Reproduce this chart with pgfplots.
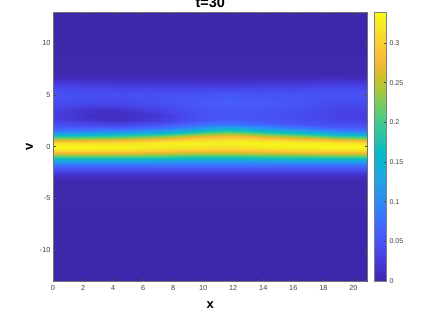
\documentclass[border=0pt]{standalone}
\usepackage{fontspec}
\setmainfont{Liberation Sans}
\usepackage{pgfplots}
\pgfplotsset{compat=1.18}
\pgfplotsset{colormap={parula}{
rgb=(0.2422,0.1504,0.6603) rgb=(0.2647,0.1978,0.7952) rgb=(0.2783,0.2559,0.8991) rgb=(0.2810,0.3228,0.9579)
rgb=(0.2699,0.3892,0.9906) rgb=(0.2206,0.4603,0.9973) rgb=(0.1786,0.5289,0.9682) rgb=(0.1540,0.5902,0.9218)
rgb=(0.1248,0.6459,0.8883) rgb=(0.0689,0.6948,0.8394) rgb=(0.0067,0.7312,0.7660) rgb=(0.1408,0.7584,0.6842)
rgb=(0.2161,0.7843,0.5923) rgb=(0.3406,0.8008,0.4789) rgb=(0.5044,0.7993,0.3480) rgb=(0.6720,0.7793,0.2227)
rgb=(0.8203,0.7498,0.1535) rgb=(0.9393,0.7288,0.2100) rgb=(0.9970,0.7659,0.2199) rgb=(0.9786,0.8386,0.1766)
rgb=(0.9597,0.9135,0.1423) rgb=(0.9769,0.9839,0.0805)}}
\definecolor{tk}{gray}{0.25}
\begin{document}
\begin{tikzpicture}[x=1pt,y=1pt]
\path[use as bounding box] (-53pt,-36pt) rectangle (370pt,281pt);
\begin{axis}[
 at={(0pt,0pt)},anchor=south west,
 scale only axis,width=314.5pt,height=269pt,
 view={0}{90},
 xmin=0,xmax=20.94,ymin=-13,ymax=13,
 xtick={0,2,...,20},xticklabels={0,2,4,6,8,10,12,14,16,18,20},
 ytick={-10,-5,0,5,10},yticklabels={-10,-5,0,5,10},
 tick label style={font=\fontsize{7.3}{8}\selectfont,text=tk},
 xticklabel style={yshift=-1pt},
 yticklabel style={xshift=1pt},
 major tick length=2.8pt,
 tick align=inside,
 tick style={color=black!70,line width=0.4pt},
 axis line style={color=black!55,line width=0.5pt},
 axis on top,
 title={\bfseries t=30},
 title style={at={(0.5,1)},anchor=base,yshift=-1.5pt,font=\fontsize{14.5}{16}\selectfont},
 xlabel={\bfseries x},
 xlabel style={at={(0.5,0)},anchor=base,yshift=-27pt,font=\fontsize{13}{14}\selectfont},
 ylabel={\bfseries v},
 ylabel style={at={(0,0.5)},anchor=base,rotate=0,xshift=0pt,yshift=20pt,font=\fontsize{13}{14}\selectfont},
 colormap name=parula,
 point meta min=0,point meta max=0.339,
 colorbar,
 colorbar style={
  at={(1.0207,1)},anchor=north west,
  scale only axis,width=12pt,height=269pt,
  ytick={0,0.05,0.1,0.15,0.2,0.25,0.3},
  yticklabels={0,0.05,0.1,0.15,0.2,0.25,0.3},
  ymin=0,ymax=0.339,
  tick align=inside,major tick length=2.2pt,
  ytick pos=right,yticklabel pos=right,
  tick label style={font=\fontsize{7}{8}\selectfont,text=tk},
  yticklabel style={xshift=0pt},
  axis line style={color=black!50,line width=0.5pt},
  title={},xlabel={},ylabel={},
 },
]
\addplot3[surf,shader=interp,mesh/rows=29,mesh/cols=12,forget plot] coordinates {
(0,-13,.0005) (2.5,-13,.0005) (4.5,-13,.0005) (7,-13,.0005) (9,-13,.0005) (10.3,-13,.0005) (11.5,-13,.0005) (12.8,-13,.0005) (14,-13,.0005) (16.5,-13,.0005) (19,-13,.0005) (20.94,-13,.0005)
(0,-3.4,.002) (2.5,-3.4,.002) (4.5,-3.4,.002) (7,-3.4,.002) (9,-3.4,.002) (10.3,-3.4,.002) (11.5,-3.4,.002) (12.8,-3.4,.002) (14,-3.4,.002) (16.5,-3.4,.002) (19,-3.4,.002) (20.94,-3.4,.002)
(0,-3,.006) (2.5,-3,.006) (4.5,-3,.006) (7,-3,.006) (9,-3,.006) (10.3,-3,.006) (11.5,-3,.006) (12.8,-3,.006) (14,-3,.006) (16.5,-3,.006) (19,-3,.006) (20.94,-3,.006)
(0,-2.6,.024) (2.5,-2.6,.024) (4.5,-2.6,.024) (7,-2.6,.024) (9,-2.6,.024) (10.3,-2.6,.024) (11.5,-2.6,.024) (12.8,-2.6,.024) (14,-2.6,.024) (16.5,-2.6,.024) (19,-2.6,.024) (20.94,-2.6,.024)
(0,-2.2,.046) (2.5,-2.2,.046) (4.5,-2.2,.046) (7,-2.2,.046) (9,-2.2,.046) (10.3,-2.2,.046) (11.5,-2.2,.046) (12.8,-2.2,.046) (14,-2.2,.046) (16.5,-2.2,.046) (19,-2.2,.046) (20.94,-2.2,.046)
(0,-1.8,.078) (2.5,-1.8,.078) (4.5,-1.8,.078) (7,-1.8,.078) (9,-1.8,.076) (10.3,-1.8,.076) (11.5,-1.8,.076) (12.8,-1.8,.076) (14,-1.8,.078) (16.5,-1.8,.078) (19,-1.8,.078) (20.94,-1.8,.078)
(0,-1.4,.125) (2.5,-1.4,.125) (4.5,-1.4,.125) (7,-1.4,.12) (9,-1.4,.118) (10.3,-1.4,.118) (11.5,-1.4,.118) (12.8,-1.4,.118) (14,-1.4,.12) (16.5,-1.4,.125) (19,-1.4,.125) (20.94,-1.4,.125)
(0,-1,.195) (2.5,-1,.195) (4.5,-1,.195) (7,-1,.19) (9,-1,.182) (10.3,-1,.18) (11.5,-1,.18) (12.8,-1,.182) (14,-1,.185) (16.5,-1,.19) (19,-1,.195) (20.94,-1,.195)
(0,-.6,.27) (2.5,-.6,.27) (4.5,-.6,.27) (7,-.6,.26) (9,-.6,.25) (10.3,-.6,.25) (11.5,-.6,.25) (12.8,-.6,.252) (14,-.6,.255) (16.5,-.6,.265) (19,-.6,.27) (20.94,-.6,.27)
(0,-.3,.315) (2.5,-.3,.315) (4.5,-.3,.315) (7,-.3,.305) (9,-.3,.30) (10.3,-.3,.297) (11.5,-.3,.295) (12.8,-.3,.297) (14,-.3,.30) (16.5,-.3,.31) (19,-.3,.315) (20.94,-.3,.315)
(0,0,.337) (2.5,0,.337) (4.5,0,.335) (7,0,.325) (9,0,.323) (10.3,0,.318) (11.5,0,.315) (12.8,0,.32) (14,0,.325) (16.5,0,.33) (19,0,.335) (20.94,0,.337)
(0,.3,.315) (2.5,.3,.315) (4.5,.3,.32) (7,.3,.33) (9,.3,.333) (10.3,.3,.33) (11.5,.3,.328) (12.8,.3,.331) (14,.3,.333) (16.5,.3,.33) (19,.3,.325) (20.94,.3,.315)
(0,.6,.26) (2.5,.6,.265) (4.5,.6,.27) (7,.6,.29) (9,.6,.308) (10.3,.6,.316) (11.5,.6,.32) (12.8,.6,.318) (14,.6,.31) (16.5,.6,.295) (19,.6,.275) (20.94,.6,.26)
(0,1,.175) (2.5,1,.185) (4.5,1,.195) (7,1,.22) (9,1,.252) (10.3,1,.27) (11.5,1,.277) (12.8,1,.272) (14,1,.255) (16.5,1,.225) (19,1,.19) (20.94,1,.175)
(0,1.4,.095) (2.5,1.4,.105) (4.5,1.4,.115) (7,1.4,.135) (9,1.4,.17) (10.3,1.4,.195) (11.5,1.4,.208) (12.8,1.4,.20) (14,1.4,.18) (16.5,1.4,.15) (19,1.4,.11) (20.94,1.4,.095)
(0,1.8,.058) (2.5,1.8,.06) (4.5,1.8,.062) (7,1.8,.076) (9,1.8,.10) (10.3,1.8,.122) (11.5,1.8,.135) (12.8,1.8,.126) (14,1.8,.11) (16.5,1.8,.085) (19,1.8,.062) (20.94,1.8,.058)
(0,2.2,.042) (2.5,2.2,.036) (4.5,2.2,.032) (7,2.2,.045) (9,2.2,.06) (10.3,2.2,.073) (11.5,2.2,.08) (12.8,2.2,.075) (14,2.2,.066) (16.5,2.2,.05) (19,2.2,.044) (20.94,2.2,.042)
(0,2.6,.032) (2.5,2.6,.018) (4.5,2.6,.013) (7,2.6,.026) (9,2.6,.043) (10.3,2.6,.052) (11.5,2.6,.056) (12.8,2.6,.054) (14,2.6,.05) (16.5,2.6,.042) (19,2.6,.036) (20.94,2.6,.032)
(0,3,.028) (2.5,3,.012) (4.5,3,.011) (7,3,.022) (9,3,.042) (10.3,3,.048) (11.5,3,.05) (12.8,3,.049) (14,3,.047) (16.5,3,.042) (19,3,.032) (20.94,3,.028)
(0,3.5,.032) (2.5,3.5,.016) (4.5,3.5,.016) (7,3.5,.032) (9,3.5,.046) (10.3,3.5,.052) (11.5,3.5,.054) (12.8,3.5,.052) (14,3.5,.05) (16.5,3.5,.044) (19,3.5,.034) (20.94,3.5,.032)
(0,4,.04) (2.5,4,.033) (4.5,4,.033) (7,4,.042) (9,4,.05) (10.3,4,.055) (11.5,4,.058) (12.8,4,.057) (14,4,.055) (16.5,4,.048) (19,4,.038) (20.94,4,.04)
(0,4.5,.045) (2.5,4.5,.042) (4.5,4.5,.042) (7,4.5,.046) (9,4.5,.052) (10.3,4.5,.055) (11.5,4.5,.058) (12.8,4.5,.057) (14,4.5,.056) (16.5,4.5,.05) (19,4.5,.044) (20.94,4.5,.045)
(0,5,.047) (2.5,5,.045) (4.5,5,.044) (7,5,.046) (9,5,.048) (10.3,5,.05) (11.5,5,.052) (12.8,5,.051) (14,5,.05) (16.5,5,.048) (19,5,.047) (20.94,5,.047)
(0,5.5,.042) (2.5,5.5,.04) (4.5,5.5,.038) (7,5.5,.04) (9,5.5,.04) (10.3,5.5,.04) (11.5,5.5,.04) (12.8,5.5,.04) (14,5.5,.04) (16.5,5.5,.042) (19,5.5,.044) (20.94,5.5,.042)
(0,6,.03) (2.5,6,.026) (4.5,6,.022) (7,6,.023) (9,6,.023) (10.3,6,.022) (11.5,6,.022) (12.8,6,.023) (14,6,.024) (16.5,6,.026) (19,6,.03) (20.94,6,.03)
(0,6.4,.015) (2.5,6.4,.013) (4.5,6.4,.012) (7,6.4,.011) (9,6.4,.011) (10.3,6.4,.011) (11.5,6.4,.011) (12.8,6.4,.011) (14,6.4,.012) (16.5,6.4,.014) (19,6.4,.016) (20.94,6.4,.015)
(0,6.8,.006) (2.5,6.8,.006) (4.5,6.8,.006) (7,6.8,.006) (9,6.8,.006) (10.3,6.8,.006) (11.5,6.8,.006) (12.8,6.8,.006) (14,6.8,.006) (16.5,6.8,.006) (19,6.8,.006) (20.94,6.8,.006)
(0,7.4,.002) (2.5,7.4,.002) (4.5,7.4,.002) (7,7.4,.002) (9,7.4,.002) (10.3,7.4,.002) (11.5,7.4,.002) (12.8,7.4,.002) (14,7.4,.002) (16.5,7.4,.002) (19,7.4,.002) (20.94,7.4,.002)
(0,13,.0005) (2.5,13,.0005) (4.5,13,.0005) (7,13,.0005) (9,13,.0005) (10.3,13,.0005) (11.5,13,.0005) (12.8,13,.0005) (14,13,.0005) (16.5,13,.0005) (19,13,.0005) (20.94,13,.0005)
};
\end{axis}
\end{tikzpicture}
\end{document}
